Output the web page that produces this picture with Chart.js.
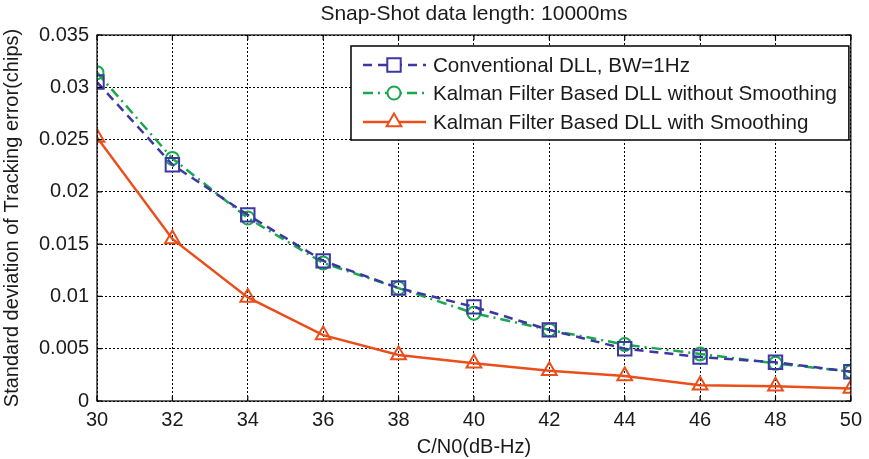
<!DOCTYPE html>
<html>
<head>
<meta charset="utf-8">
<script src="https://cdn.jsdelivr.net/npm/chart.js@4/dist/chart.umd.min.js"></script>
<style>
html,body{margin:0;padding:0;background:#fff;}
#wrap{width:869px;height:459px;position:relative;}
</style>
</head>
<body>
<div id="wrap"><canvas id="c" width="869" height="459"></canvas></div>
<script>
const titleText = 'Snap-Shot data length: 10000ms';
const xTitle = 'C/N0(dB-Hz)';
const yTitle = 'Standard deviation of Tracking error(chips)';
const cnr = [30, 32, 34, 36, 38, 40, 42, 44, 46, 48, 50];
const conventional = [0.0305, 0.0226, 0.0178, 0.0134, 0.0108, 0.0090, 0.0068, 0.0050, 0.0042, 0.0037, 0.0028];
const kalmanNoSmooth = [0.0314, 0.0232, 0.0175, 0.0132, 0.0108, 0.0084, 0.0068, 0.0054, 0.0045, 0.0036, 0.0028];
const kalmanSmooth = [0.0252, 0.0155, 0.0099, 0.0063, 0.0044, 0.0036, 0.0029, 0.0024, 0.0015, 0.0014, 0.0012];
const seriesNames = ['Conventional DLL, BW=1Hz', 'Kalman Filter Based DLL without Smoothing', 'Kalman Filter Based DLL with Smoothing'];
const xTicks = [30, 32, 34, 36, 38, 40, 42, 44, 46, 48, 50];
const yTicks = [0, 0.005, 0.01, 0.015, 0.02, 0.025, 0.03, 0.035];

const FONT = "'Liberation Sans', Arial, Helvetica, sans-serif";
const BLUE = '#3d37a3', GREEN = '#18a84e', ORANGE = '#ea4f1b';

function pts(arr){ return cnr.map((x,i)=>({x:x, y:arr[i]})); }

const styles = [
  {color: BLUE, dash:[9,6], point:'rect', radius:9.5},
  {color: GREEN, dash:[10,5,2,5], point:'circle', radius:6.5},
  {color: ORANGE, dash:[], point:'triangle', radius:8.5}
];
const seriesData = [conventional, kalmanNoSmooth, kalmanSmooth];

const datasets = seriesData.map((d,i)=>({
  label: seriesNames[i],
  data: pts(d),
  borderColor: styles[i].color,
  borderWidth: 2.5,
  borderDash: styles[i].dash,
  pointStyle: styles[i].point,
  pointRadius: styles[i].radius,
  pointHoverRadius: styles[i].radius,
  pointBorderWidth: 2,
  pointBorderColor: styles[i].color,
  pointBackgroundColor: 'rgba(0,0,0,0)',
  fill: false,
  tension: 0
}));

const framePlugin = {
  id: 'frame',
  afterDatasetsDraw(chart){
    const {ctx, chartArea:a, scales} = chart;
    ctx.save();
    // title
    ctx.fillStyle = '#1a1a1a';
    ctx.font = '21px ' + FONT;
    ctx.textAlign = 'center';
    ctx.textBaseline = 'middle';
    ctx.fillText(titleText, (a.left + a.right) / 2, 14);

    ctx.strokeStyle = '#000';
    ctx.lineWidth = 1.2;
    ctx.setLineDash([]);
    // inward ticks
    const tl = 5;
    ctx.beginPath();
    xTicks.forEach(v=>{
      const px = scales.x.getPixelForValue(v);
      ctx.moveTo(px, a.bottom); ctx.lineTo(px, a.bottom - tl);
      ctx.moveTo(px, a.top); ctx.lineTo(px, a.top + tl);
    });
    yTicks.forEach(v=>{
      const py = scales.y.getPixelForValue(v);
      ctx.moveTo(a.left, py); ctx.lineTo(a.left + tl, py);
      ctx.moveTo(a.right, py); ctx.lineTo(a.right - tl, py);
    });
    ctx.stroke();
    ctx.strokeRect(a.left, a.top, a.right - a.left, a.bottom - a.top);

    // legend
    const bx = a.left + 254, by = a.top + 11, bw = a.right - 2 - bx, bh = 94;
    ctx.fillStyle = '#fff';
    ctx.fillRect(bx, by, bw, bh);
    ctx.lineWidth = 1.5;
    ctx.strokeRect(bx, by, bw, bh);
    const rows = [by + 19, by + 47, by + 76];
    ctx.font = '20.6px ' + FONT;
    ctx.textBaseline = 'middle';
    ctx.textAlign = 'left';
    rows.forEach((ry,i)=>{
      const s = styles[i];
      ctx.save();
      ctx.strokeStyle = s.color;
      ctx.lineWidth = 2.5;
      ctx.setLineDash(s.dash);
      ctx.beginPath();
      ctx.moveTo(bx + 12, ry); ctx.lineTo(bx + 75, ry);
      ctx.stroke();
      ctx.setLineDash([]);
      ctx.fillStyle = '#fff';
      ctx.lineWidth = 2;
      Chart.helpers.drawPoint(ctx, {pointStyle: s.point, radius: s.radius, borderWidth: 2, rotation: 0}, bx + 43, ry);
      ctx.restore();
      ctx.fillStyle = '#1a1a1a';
      ctx.fillText(seriesNames[i], bx + 82, ry + 1);
    });
    ctx.restore();
  }
};

new Chart(document.getElementById('c'), {
  type: 'line',
  data: { datasets },
  plugins: [framePlugin],
  options: {
    responsive: false,
    animation: false,
    devicePixelRatio: 1,
    layout: { padding: { left: 0, right: 18, top: 35, bottom: 0 } },
    plugins: {
      legend: { display: false },
      tooltip: { enabled: false },
      title: { display: false }
    },
    scales: {
      x: {
        type: 'linear',
        min: 30, max: 50,
        afterBuildTicks(s){ s.ticks = xTicks.map(v=>({value:v})); },
        afterFit(s){ s.height = 58; },
        grid: { color: '#000', lineWidth: 1, drawTicks: false },
        border: { display: false, dash: [2, 2] },
        ticks: { color: '#1a1a1a', font: { family: FONT, size: 20 }, padding: 7, maxRotation: 0, autoSkip: false },
        title: { display: true, text: xTitle, color: '#1a1a1a', font: { family: FONT, size: 20 }, padding: { top: 1, bottom: 0 } }
      },
      y: {
        type: 'linear',
        min: 0, max: 0.035,
        afterBuildTicks(s){ s.ticks = yTicks.map(v=>({value:v})); },
        afterFit(s){ s.width = 97; },
        grid: { color: '#000', lineWidth: 1, drawTicks: false },
        border: { display: false, dash: [2, 2] },
        ticks: {
          color: '#1a1a1a', font: { family: FONT, size: 20 }, padding: 8, autoSkip: false,
          callback: v => String(parseFloat(Number(v).toFixed(3)))
        },
        title: { display: true, text: yTitle, color: '#1a1a1a', font: { family: FONT, size: 20 }, padding: { top: 0, bottom: 4 } }
      }
    }
  }
});
</script>
</body>
</html>
